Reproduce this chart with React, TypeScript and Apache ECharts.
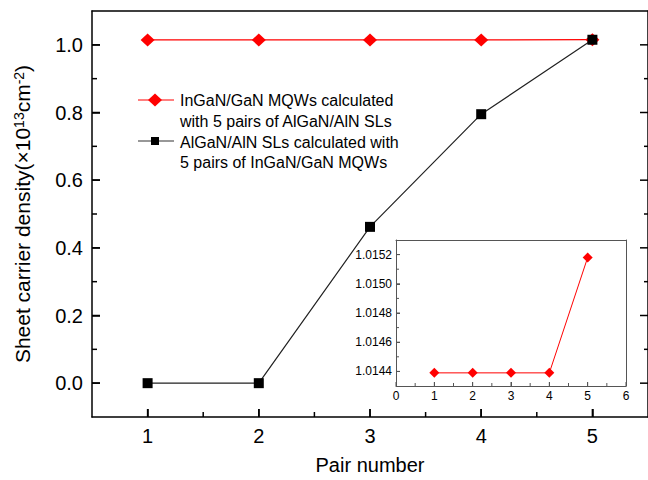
import React, { useEffect, useRef } from 'react';
import * as echarts from 'echarts';

// ---- data ----
const pairs = [1, 2, 3, 4, 5];
const mqwDensity = [1.01439, 1.01439, 1.01439, 1.01439, 1.01518];
const slDensity = [0, 0, 0.462, 0.795, 1.015];

// ---- axes / ticks ----
const mainXRange = [0.5, 5.5];
const mainYRange = [-0.1, 1.1];
const insetXRange = [0, 6];
const insetYRange = [1.0143, 1.0153];
const mainXTicks = [1, 2, 3, 4, 5];
const mainXMinor = [1.5, 2.5, 3.5, 4.5];
const mainYTicks = [0, 0.2, 0.4, 0.6, 0.8, 1.0];
const mainYMinor = [0.1, 0.3, 0.5, 0.7, 0.9];
const insetXTicks = [0, 1, 2, 3, 4, 5, 6];
const insetXMinor = [0.5, 1.5, 2.5, 3.5, 4.5, 5.5];
const insetYTicks = [1.0144, 1.0146, 1.0148, 1.015, 1.0152];
const insetYMinor = [1.0145, 1.0147, 1.0149, 1.0151];

const mqwName = 'InGaN/GaN MQWs calculated with 5 pairs of AlGaN/AlN SLs';
const slName = 'AlGaN/AlN SLs calculated with 5 pairs of InGaN/GaN MQWs';
const mqwLegendLines = ['InGaN/GaN MQWs calculated', 'with 5 pairs of AlGaN/AlN SLs'];
const slLegendLines = ['AlGaN/AlN SLs calculated with', '5 pairs of InGaN/GaN MQWs'];

const FONT = 'Liberation Sans, Arial, sans-serif';
const RED = '#ff0000';
const BLACK = '#000000';
const INSET_AXIS = '#555555';

// side: 0 = bottom, 1 = left, 2 = right
function tickData(side: number, values: number[], len: number) {
  return values.map((v) => [side, v, len]);
}

function lineAxis(gridIndex: number, range: number[], position: string, color: string, width: number) {
  return {
    gridIndex, type: 'value', min: range[0], max: range[1], position,
    axisLine: { show: true, onZero: false, lineStyle: { color, width } },
    axisTick: { show: false }, axisLabel: { show: false }, splitLine: { show: false },
  };
}

function tickSeries(xAxisIndex: number, yAxisIndex: number, xr: number[], yr: number[], data: number[][], color: string, width: number) {
  return {
    type: 'custom', xAxisIndex, yAxisIndex, silent: true, clip: false, z: 5,
    data,
    renderItem: (_params: any, api: any) => {
      const side = api.value(0);
      const v = api.value(1);
      const len = api.value(2);
      let shape;
      if (side === 0) {
        const p = api.coord([v, yr[0]]);
        shape = { x: p[0] - width / 2, y: p[1] - len, width, height: len };
      } else if (side === 1) {
        const p = api.coord([xr[0], v]);
        shape = { x: p[0], y: p[1] - width / 2, width: len, height: width };
      } else {
        const p = api.coord([xr[1], v]);
        shape = { x: p[0] - len, y: p[1] - width / 2, width: len, height: width };
      }
      return { type: 'rect', shape, style: { fill: color } };
    },
  };
}

export default function App() {
  const ref = useRef<HTMLDivElement>(null);

  useEffect(() => {
    if (!ref.current) return;
    const chart = echarts.init(ref.current, undefined, { renderer: 'svg' });

    const mainTicks = [
      ...tickData(0, mainXTicks, 8), ...tickData(0, mainXMinor, 5),
      ...tickData(1, mainYTicks, 8), ...tickData(1, mainYMinor, 5),
      ...tickData(2, mainYTicks, 8), ...tickData(2, mainYMinor, 4),
    ];
    const insetTicks = [
      ...tickData(0, insetXTicks, 4), ...tickData(0, insetXMinor, 3),
      ...tickData(1, insetYTicks, 4), ...tickData(1, insetYMinor, 3),
    ];

    const option: any = {
      animation: false,
      grid: [
        { left: 92, top: 11, width: 557, height: 407 },
        { left: 396, top: 240, width: 230, height: 146 },
      ],
      xAxis: [
        {
          gridIndex: 0, type: 'value', min: mainXRange[0], max: mainXRange[1], position: 'bottom',
          axisLine: { show: true, onZero: false, lineStyle: { color: BLACK, width: 1.5 } },
          axisTick: { show: true, inside: true, length: 8, customValues: mainXTicks, lineStyle: { color: BLACK, width: 1.5 } },
          axisLabel: { show: true, customValues: mainXTicks, margin: 9, fontSize: 20, color: BLACK, fontFamily: FONT },
          splitLine: { show: false },
          name: 'Pair number', nameLocation: 'middle', nameGap: 38,
          nameTextStyle: { fontSize: 20, color: BLACK, fontFamily: FONT },
        },
        lineAxis(0, mainXRange, 'top', BLACK, 1.5),
        {
          gridIndex: 1, type: 'value', min: insetXRange[0], max: insetXRange[1], position: 'bottom',
          axisLine: { show: true, onZero: false, lineStyle: { color: INSET_AXIS, width: 1 } },
          axisTick: { show: true, inside: true, length: 4, customValues: insetXTicks, lineStyle: { color: INSET_AXIS, width: 1 } },
          axisLabel: { show: true, customValues: insetXTicks, margin: 4, fontSize: 12, color: BLACK, fontFamily: FONT },
          splitLine: { show: false },
        },
        lineAxis(1, insetXRange, 'top', INSET_AXIS, 1),
      ],
      yAxis: [
        {
          gridIndex: 0, type: 'value', min: mainYRange[0], max: mainYRange[1], position: 'left',
          axisLine: { show: true, onZero: false, lineStyle: { color: BLACK, width: 1.5 } },
          axisTick: { show: true, inside: true, length: 8, customValues: mainYTicks, lineStyle: { color: BLACK, width: 1.5 } },
          axisLabel: {
            show: true, customValues: mainYTicks, margin: 9, fontSize: 20, color: BLACK, fontFamily: FONT,
            formatter: (v: number) => v.toFixed(1),
          },
          splitLine: { show: false },
          name: 'Sheet carrier density(×10{sup|13}cm{sup|-2})',
          nameLocation: 'middle', nameGap: 59, nameRotate: 90,
          nameTextStyle: {
            fontSize: 21, color: BLACK, fontFamily: FONT,
            rich: { sup: { fontSize: 14, verticalAlign: 'top', color: BLACK, fontFamily: FONT } },
          },
        },
        lineAxis(0, mainYRange, 'right', BLACK, 1.5),
        {
          gridIndex: 1, type: 'value', min: insetYRange[0], max: insetYRange[1], position: 'left',
          axisLine: { show: true, onZero: false, lineStyle: { color: INSET_AXIS, width: 1 } },
          axisTick: { show: true, inside: true, length: 4, customValues: insetYTicks, lineStyle: { color: INSET_AXIS, width: 1 } },
          axisLabel: {
            show: true, customValues: insetYTicks, margin: 4, fontSize: 12, color: BLACK, fontFamily: FONT,
            formatter: (v: number) => v.toFixed(4),
          },
          splitLine: { show: false },
        },
        lineAxis(1, insetYRange, 'right', INSET_AXIS, 1),
      ],
      series: [
        tickSeries(0, 0, mainXRange, mainYRange, mainTicks, BLACK, 1.5),
        tickSeries(2, 2, insetXRange, insetYRange, insetTicks, INSET_AXIS, 1),
        {
          name: mqwName, type: 'line', xAxisIndex: 0, yAxisIndex: 0,
          data: pairs.map((p, i) => [p, mqwDensity[i]]),
          symbol: 'diamond', symbolSize: [14, 13],
          lineStyle: { color: RED, width: 1.2 }, itemStyle: { color: RED },
          z: 2,
        },
        {
          name: slName, type: 'line', xAxisIndex: 0, yAxisIndex: 0,
          data: pairs.map((p, i) => [p, slDensity[i]]),
          symbol: 'rect', symbolSize: 10,
          lineStyle: { color: '#222', width: 1.2 }, itemStyle: { color: BLACK },
          z: 3,
        },
        {
          name: 'inset', type: 'line', xAxisIndex: 2, yAxisIndex: 2,
          data: pairs.map((p, i) => [p, mqwDensity[i]]),
          symbol: 'diamond', symbolSize: [10, 10],
          lineStyle: { color: RED, width: 1 }, itemStyle: { color: RED },
          z: 4,
        },
      ],
      graphic: [
        { type: 'line', shape: { x1: 138, y1: 100, x2: 174, y2: 100 }, style: { stroke: RED, lineWidth: 1.2 } },
        { type: 'polygon', shape: { points: [[155, 93.5], [162, 100], [155, 106.5], [148, 100]] }, style: { fill: RED } },
        { type: 'line', shape: { x1: 138, y1: 141, x2: 174, y2: 141 }, style: { stroke: '#333', lineWidth: 1.2 } },
        { type: 'rect', shape: { x: 151, y: 137, width: 8, height: 8 }, style: { fill: BLACK } },
        { type: 'text', x: 180, y: 100, style: { text: mqwLegendLines[0], fontSize: 16, fontFamily: FONT, fill: BLACK, verticalAlign: 'middle' } },
        { type: 'text', x: 180, y: 121, style: { text: mqwLegendLines[1], fontSize: 16, fontFamily: FONT, fill: BLACK, verticalAlign: 'middle' } },
        { type: 'text', x: 180, y: 142, style: { text: slLegendLines[0], fontSize: 16, fontFamily: FONT, fill: BLACK, verticalAlign: 'middle' } },
        { type: 'text', x: 180, y: 162, style: { text: slLegendLines[1], fontSize: 16, fontFamily: FONT, fill: BLACK, verticalAlign: 'middle' } },
      ],
    };

    chart.setOption(option);
    return () => chart.dispose();
  }, []);

  return (
    <div
      ref={ref}
      style={{ position: 'fixed', left: 0, top: 0, width: 648, height: 480, background: '#fff' }}
    />
  );
}
